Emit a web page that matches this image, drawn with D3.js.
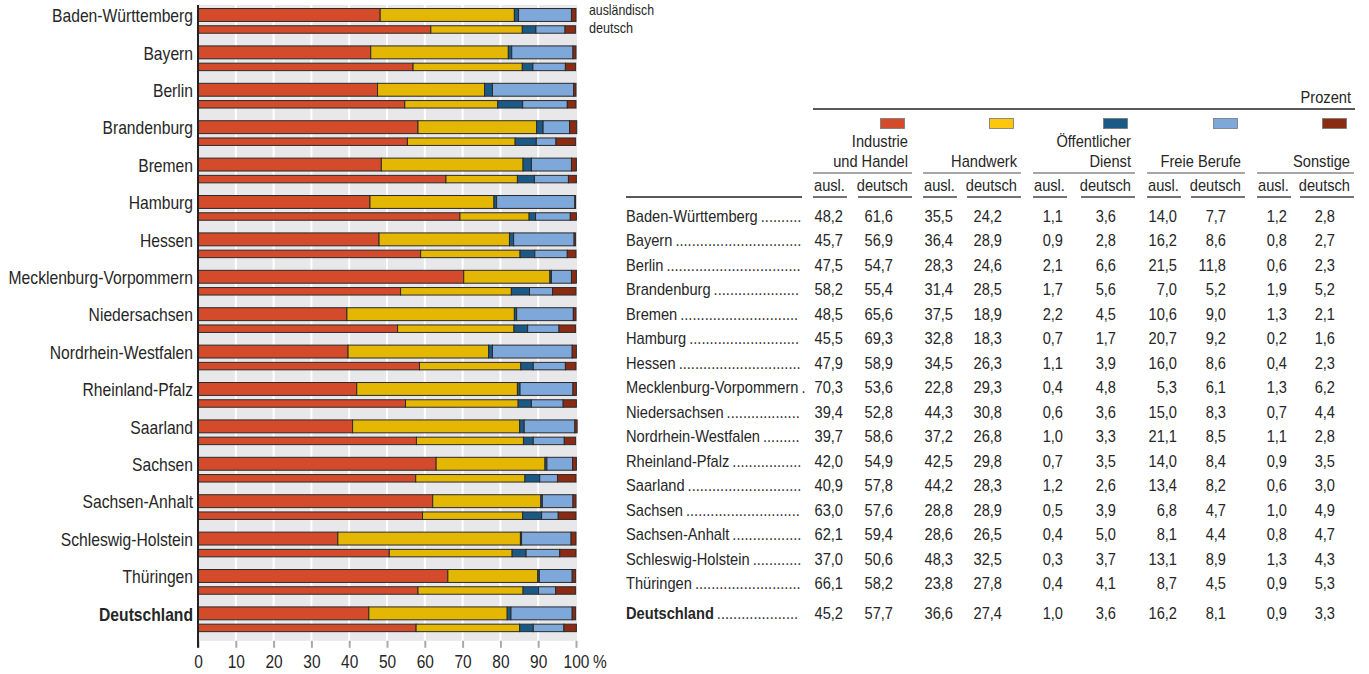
<!DOCTYPE html>
<html lang="de">
<head>
<meta charset="utf-8">
<script src="https://cdn.jsdelivr.net/npm/d3@7"></script>
<style>
  html, body { margin: 0; padding: 0; background: #fff; }
  svg { display: block; font-family: "Liberation Sans", Arial, Helvetica, sans-serif; }
</style>
</head>
<body>
<svg id="chart" width="1369" height="674"></svg>
<script>
// Beschäftigte nach Wirtschaftsbereichen, ausländisch / deutsch, in Prozent
const states = ["Baden-Württemberg", "Bayern", "Berlin", "Brandenburg", "Bremen", "Hamburg", "Hessen",
  "Mecklenburg-Vorpommern", "Niedersachsen", "Nordrhein-Westfalen", "Rheinland-Pfalz", "Saarland",
  "Sachsen", "Sachsen-Anhalt", "Schleswig-Holstein", "Thüringen", "Deutschland"];

const categories = ["Industrie und Handel", "Handwerk", "Öffentlicher Dienst", "Freie Berufe", "Sonstige"];
const categoryHeader = [["Industrie", "und Handel"], ["Handwerk"], ["Öffentlicher", "Dienst"], ["Freie Berufe"], ["Sonstige"]];

const industrieAusl    = [48.2, 45.7, 47.5, 58.2, 48.5, 45.5, 47.9, 70.3, 39.4, 39.7, 42.0, 40.9, 63.0, 62.1, 37.0, 66.1, 45.2];
const industrieDeutsch = [61.6, 56.9, 54.7, 55.4, 65.6, 69.3, 58.9, 53.6, 52.8, 58.6, 54.9, 57.8, 57.6, 59.4, 50.6, 58.2, 57.7];
const handwerkAusl     = [35.5, 36.4, 28.3, 31.4, 37.5, 32.8, 34.5, 22.8, 44.3, 37.2, 42.5, 44.2, 28.8, 28.6, 48.3, 23.8, 36.6];
const handwerkDeutsch  = [24.2, 28.9, 24.6, 28.5, 18.9, 18.3, 26.3, 29.3, 30.8, 26.8, 29.8, 28.3, 28.9, 26.5, 32.5, 27.8, 27.4];
const dienstAusl       = [1.1, 0.9, 2.1, 1.7, 2.2, 0.7, 1.1, 0.4, 0.6, 1.0, 0.7, 1.2, 0.5, 0.4, 0.3, 0.4, 1.0];
const dienstDeutsch    = [3.6, 2.8, 6.6, 5.6, 4.5, 1.7, 3.9, 4.8, 3.6, 3.3, 3.5, 2.6, 3.9, 5.0, 3.7, 4.1, 3.6];
const berufeAusl       = [14.0, 16.2, 21.5, 7.0, 10.6, 20.7, 16.0, 5.3, 15.0, 21.1, 14.0, 13.4, 6.8, 8.1, 13.1, 8.7, 16.2];
const berufeDeutsch    = [7.7, 8.6, 11.8, 5.2, 9.0, 9.2, 8.6, 6.1, 8.3, 8.5, 8.4, 8.2, 4.7, 4.4, 8.9, 4.5, 8.1];
const sonstigeAusl     = [1.2, 0.8, 0.6, 1.9, 1.3, 0.2, 0.4, 1.3, 0.7, 1.1, 0.9, 0.6, 1.0, 0.8, 1.3, 0.9, 0.9];
const sonstigeDeutsch  = [2.8, 2.7, 2.3, 5.2, 2.1, 1.6, 2.3, 6.2, 4.4, 2.8, 3.5, 3.0, 4.9, 4.7, 4.3, 5.3, 3.3];

const xTicks = [0, 10, 20, 30, 40, 50, 60, 70, 80, 90, 100];

// ---- styling ----
const barColors    = ["#d34b2b", "#e5b705", "#1b5987", "#7ea7da", "#8b2b13"];
const swatchColors = ["#d34b2b", "#fdc70e", "#1b5987", "#7ea7da", "#8b2b13"];
const textColor = "#262626";
const SX = 0.915; // horizontal condensing of the typeface

const ausl    = [industrieAusl, handwerkAusl, dienstAusl, berufeAusl, sonstigeAusl];
const deutsch = [industrieDeutsch, handwerkDeutsch, dienstDeutsch, berufeDeutsch, sonstigeDeutsch];

const rows = states.map((s, i) => {
  const r = { state: s };
  categories.forEach((c, k) => { r["a" + k] = ausl[k][i]; r["d" + k] = deutsch[k][i]; });
  return r;
});

const svg = d3.select("#chart");

function txt(parent, x, y, s, opt = {}) {
  return parent.append("text")
    .attr("transform", `translate(${x},${y}) scale(${opt.sx ?? SX},1)`)
    .attr("text-anchor", opt.anchor || "start")
    .style("font-size", (opt.size || 16) + "px")
    .style("font-weight", opt.weight || "normal")
    .attr("fill", opt.fill || textColor)
    .text(s);
}

// ================= bar chart =================
const x = d3.scaleLinear().domain([0, 100]).range([198, 576]);
const y = d3.scaleBand().domain(states).range([5, 640.8]).padding(0);
const step = y.bandwidth();

const chart = svg.append("g");

chart.append("rect")
  .attr("x", x(0)).attr("y", y.range()[0])
  .attr("width", x(100) - x(0) + 1).attr("height", y.range()[1] - y.range()[0])
  .attr("fill", "#e8e8ea");

chart.append("g").selectAll("line")
  .data(xTicks.filter(t => t > 0 && t < 100))
  .join("line")
  .attr("x1", d => x(d)).attr("x2", d => x(d))
  .attr("y1", y.range()[0]).attr("y2", y.range()[1])
  .attr("stroke", "#fff").attr("stroke-width", 2);

const stackA = d3.stack().keys(categories.map((c, k) => "a" + k))(rows);
const stackD = d3.stack().keys(categories.map((c, k) => "d" + k))(rows);

function drawStack(stacked, offset, h) {
  chart.append("g").selectAll("g")
    .data(stacked)
    .join("g")
    .attr("fill", (d, k) => barColors[k])
    .selectAll("rect")
    .data(d => d)
    .join("rect")
    .attr("x", d => x(d[0]))
    .attr("width", d => Math.max(0, x(d[1]) - x(d[0])))
    .attr("y", d => y(d.data.state) + offset)
    .attr("height", h)
    .attr("stroke", "#2a2a2a")
    .attr("stroke-width", 1);
}
drawStack(stackA, step * 0.094, step * 0.345);
drawStack(stackD, step * 0.555, step * 0.2);

// state labels
states.forEach((s) => {
  txt(chart, 193, y(s) + 17.2, s, {
    anchor: "end", size: 17.5, sx: 0.895,
    weight: s === "Deutschland" ? "bold" : "normal"
  });
});

// x axis
const axis = chart.append("g")
  .attr("transform", `translate(0,${y.range()[1]})`)
  .call(d3.axisBottom(x).tickValues(xTicks).tickSize(7).tickFormat(d3.format("d")));
axis.select(".domain").remove();
axis.selectAll(".tick line").attr("stroke", "#a9a9a9").attr("stroke-width", 2);
axis.selectAll(".tick text")
  .attr("fill", textColor)
  .style("font-size", "18px")
  .style("font-family", "'Liberation Sans', Arial, sans-serif")
  .attr("y", 14).attr("dy", "0.71em")
  .attr("transform", "scale(0.86,1)");
txt(chart, x(100) + 17, y.range()[1] + 27.3, "%", { size: 18, sx: 0.86 });

// vertical base line
chart.append("line")
  .attr("x1", x(0)).attr("x2", x(0))
  .attr("y1", y.range()[0]).attr("y2", y.range()[1] + 7)
  .attr("stroke", "#222").attr("stroke-width", 2);

// small legend next to the first group
txt(chart, 589, 15, "ausländisch", { size: 14, sx: 0.88 });
txt(chart, 589, 33, "deutsch", { size: 14, sx: 0.9 });

// ================= table =================
const table = svg.append("g");
const fmt = v => d3.format(".1f")(v).replace(".", ",");

const groupLeft  = [813, 923, 1033, 1147, 1257];
const groupRight = [912, 1021, 1135, 1245, 1354];

txt(table, 1351, 103, "Prozent", { anchor: "end" });
table.append("line").attr("x1", 813).attr("x2", 1355).attr("y1", 109).attr("y2", 109)
  .attr("stroke", "#222").attr("stroke-width", 1.5);

categories.forEach((c, k) => {
  const L = groupLeft[k], R = groupRight[k];
  table.append("rect")
    .attr("x", R - 31.5).attr("y", 118.5).attr("width", 24).attr("height", 10)
    .attr("fill", swatchColors[k]).attr("stroke", "#777").attr("stroke-width", 0.8);
  const lines = categoryHeader[k];
  lines.forEach((ln, j) => {
    txt(table, R - 4, 167 - (lines.length - 1 - j) * 20, ln, { anchor: "end" });
  });
  table.append("line").attr("x1", L).attr("x2", R).attr("y1", 173).attr("y2", 173)
    .attr("stroke", "#888").attr("stroke-width", 1.5);
  // sub headers
  txt(table, L + 1, 191, "ausl.");
  txt(table, R - 4, 191, "deutsch", { anchor: "end" });
  table.append("line").attr("x1", L).attr("x2", L + 34).attr("y1", 197).attr("y2", 197)
    .attr("stroke", "#444").attr("stroke-width", 1.3);
  table.append("line").attr("x1", R - 54).attr("x2", R).attr("y1", 197).attr("y2", 197)
    .attr("stroke", "#444").attr("stroke-width", 1.3);
});
table.append("line").attr("x1", 626).attr("x2", 802).attr("y1", 197).attr("y2", 197)
  .attr("stroke", "#222").attr("stroke-width", 1.5);

const rowY = i => (i < 16 ? 221.7 + i * 24.49 : 619);
const dotsEnd = 802;

rows.forEach((r, i) => {
  const yy = rowY(i);
  const isTotal = r.state === "Deutschland";
  const name = txt(table, 626, yy, r.state, { weight: isTotal ? "bold" : "normal" });
  const start = 626 + name.node().getComputedTextLength() * SX + 3;
  // leader dots filling the space up to the first number column
  const dots = txt(table, start, yy, ".", { fill: "#333" });
  let n = 1;
  while (true) {
    dots.text(".".repeat(n + 1));
    if (start + dots.node().getComputedTextLength() * SX > dotsEnd) { dots.text(".".repeat(n)); break; }
    n++;
  }
  categories.forEach((c, k) => {
    txt(table, groupLeft[k] + 30, yy, fmt(r["a" + k]), { anchor: "end" });
    txt(table, groupRight[k] - 19, yy, fmt(r["d" + k]), { anchor: "end" });
  });
});
</script>
</body>
</html>
